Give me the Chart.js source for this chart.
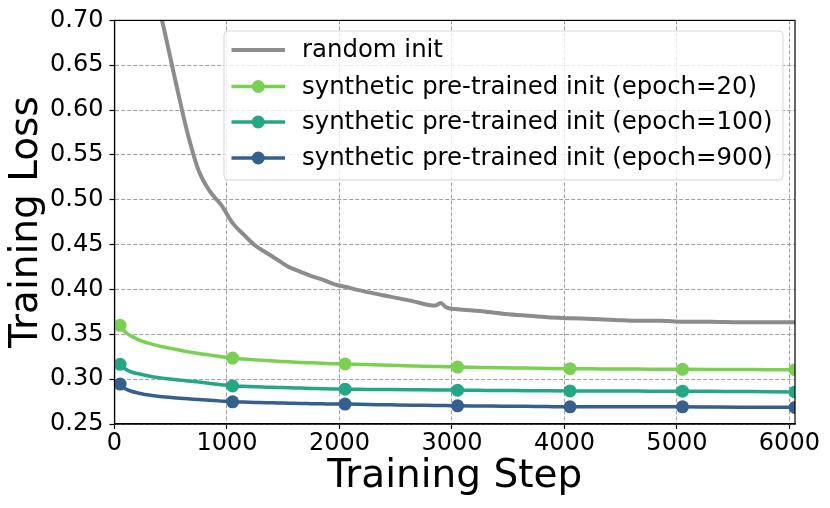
<!DOCTYPE html>
<html>
<head>
<meta charset="utf-8">
<script src="https://cdn.jsdelivr.net/npm/chart.js@4.4.1/dist/chart.umd.min.js"></script>
<style>
  html, body { margin: 0; padding: 0; background: #ffffff; }
  #wrap { width: 830px; height: 508px; }
</style>
</head>
<body>
<div id="wrap"><canvas id="c" width="830" height="508"></canvas></div>
<script>
// ---------- data ----------
const steps = [50,100,150,250,350,450,550,650,750,850,950,1050,1150,1250,1350,1450,1550,1650,1750,1850,1950,2050,2250,2450,2650,2850,2900,2950,3050,3250,3450,3650,3850,4050,4250,4450,4650,4850,5050,5300,5550,5800,6050];

const randomInit = [0.95,0.91,0.87,0.80,0.74,0.685,0.628,0.574,0.532,0.509,0.494,0.474,0.461,0.449,0.441,0.433,0.425,0.420,0.415,0.411,0.406,0.403,0.397,0.392,0.387,0.382,0.385,0.380,0.378,0.376,0.373,0.371,0.369,0.368,0.367,0.366,0.365,0.365,0.364,0.364,0.3635,0.3635,0.3635];

const epoch20 = [0.360,0.352,0.348,0.342,0.3385,0.3355,0.333,0.3305,0.3285,0.3268,0.325,0.3235,0.3225,0.3215,0.3207,0.3200,0.3193,0.3187,0.3182,0.3177,0.3172,0.3170,0.3163,0.3155,0.3148,0.3142,0.3141,0.3139,0.3135,0.3131,0.3127,0.3124,0.3120,0.3117,0.3115,0.3113,0.3112,0.3111,0.3110,0.3109,0.3108,0.3106,0.3105];

const epoch100 = [0.3165,0.311,0.308,0.305,0.3025,0.3008,0.2993,0.2980,0.2967,0.2952,0.2938,0.2925,0.2920,0.2915,0.2911,0.2907,0.2903,0.2900,0.2897,0.2894,0.2891,0.2888,0.2886,0.2884,0.2882,0.2880,0.2879,0.2879,0.2877,0.2875,0.2873,0.2872,0.2870,0.2869,0.2868,0.2867,0.2867,0.2866,0.2866,0.2864,0.2862,0.2860,0.2858];

const epoch900 = [0.2945,0.289,0.2865,0.2835,0.2815,0.2800,0.2790,0.2781,0.2773,0.2764,0.2755,0.2747,0.2744,0.2741,0.2738,0.2735,0.2732,0.2729,0.2727,0.2725,0.2723,0.2722,0.2718,0.2714,0.2710,0.2707,0.2706,0.2705,0.2703,0.2701,0.2699,0.2697,0.2694,0.2692,0.2692,0.2692,0.2692,0.2692,0.2692,0.2690,0.2688,0.2687,0.2685];

const markerSteps = [50,1050,2050,3050,4050,5050,6050];
const xTicks = [0,1000,2000,3000,4000,5000,6000];
const yTicks = [0.25,0.30,0.35,0.40,0.45,0.50,0.55,0.60,0.65,0.70];
const seriesLabels = ['random init','synthetic pre-trained init (epoch=20)','synthetic pre-trained init (epoch=100)','synthetic pre-trained init (epoch=900)'];
const seriesColors = ['#8c8c8c','#7ad151','#22a884','#355f8d'];

// ---------- chart ----------
const FONT = "'DejaVu Sans', sans-serif";
const toPts = vals => vals.map((v, i) => ({x: steps[i], y: v}));
const markerRadius = (r) => (ctx) => markerSteps.includes(steps[ctx.dataIndex]) ? r : 0;

const seriesValues = [randomInit, epoch20, epoch100, epoch900];
const datasets = seriesValues.map((vals, k) => ({
  label: seriesLabels[k],
  data: toPts(vals),
  borderColor: seriesColors[k],
  backgroundColor: seriesColors[k],
  borderWidth: k === 0 ? 4 : 3.5,
  pointRadius: k === 0 ? 0 : markerRadius(6.5),
  pointBorderWidth: 0,
  pointHoverRadius: 0,
  cubicInterpolationMode: 'monotone',
  clip: 0,
  hasMarker: k !== 0
}));

const boxPlugin = {
  id: 'boxAndLegend',
  afterDraw(chart) {
    const {ctx, chartArea: a} = chart;
    ctx.save();
    ctx.strokeStyle = '#000';
    ctx.lineWidth = 1.2;
    ctx.strokeRect(a.left, a.top, a.right - a.left, a.bottom - a.top);

    // legend
    const lx = 224, ly = 31, lw = 559, lh = 149, r = 4;
    ctx.beginPath();
    ctx.moveTo(lx + r, ly);
    ctx.arcTo(lx + lw, ly, lx + lw, ly + lh, r);
    ctx.arcTo(lx + lw, ly + lh, lx, ly + lh, r);
    ctx.arcTo(lx, ly + lh, lx, ly, r);
    ctx.arcTo(lx, ly, lx + lw, ly, r);
    ctx.closePath();
    ctx.fillStyle = 'rgba(255,255,255,0.8)';
    ctx.fill();
    ctx.strokeStyle = '#d6d6d6';
    ctx.lineWidth = 1;
    ctx.stroke();

    const rowY = [50, 86.5, 122, 158];
    chart.data.datasets.forEach((ds, i) => {
      const y = rowY[i];
      ctx.strokeStyle = ds.borderColor;
      ctx.lineWidth = ds.borderWidth;
      ctx.beginPath();
      ctx.moveTo(231.5, y);
      ctx.lineTo(285, y);
      ctx.stroke();
      if (ds.hasMarker) {
        ctx.fillStyle = ds.borderColor;
        ctx.beginPath();
        ctx.arc(258.25, y, 6.5, 0, Math.PI * 2);
        ctx.fill();
      }
      ctx.fillStyle = '#000';
      ctx.font = '24.4px ' + FONT;
      ctx.textBaseline = 'middle';
      ctx.textAlign = 'left';
      ctx.fillText(ds.label, 302, y + 1);
    });
    ctx.restore();
  }
};

new Chart(document.getElementById('c'), {
  type: 'line',
  data: { datasets },
  options: {
    responsive: false,
    animation: false,
    events: [],
    layout: { padding: { left: 0, right: 35, top: 18, bottom: 0 } },
    plugins: { legend: { display: false }, tooltip: { enabled: false } },
    scales: {
      x: {
        type: 'linear',
        min: 0,
        max: 6050,
        afterBuildTicks: s => { s.ticks = xTicks.map(v => ({value: v})); },
        afterFit: s => { s.height = 84; },
        ticks: {
          color: '#000',
          font: { family: FONT, size: 24 },
          padding: 0,
          maxRotation: 0,
          callback: v => String(v)
        },
        grid: { color: '#a0a0a0', lineWidth: 1, tickColor: '#000', tickLength: 5, tickWidth: 1.2 },
        border: { color: '#000', width: 1.2, dash: [4, 2] },
        title: { display: true, text: 'Training Step', color: '#000', font: { family: FONT, size: 39 }, padding: { top: 0, bottom: 8 } }
      },
      y: {
        min: 0.25,
        max: 0.70,
        afterBuildTicks: s => { s.ticks = yTicks.map(v => ({value: v})); },
        afterFit: s => { s.width = 114.5; },
        ticks: {
          color: '#000',
          font: { family: FONT, size: 24 },
          padding: 6,
          callback: v => Number(v).toFixed(2)
        },
        grid: { color: '#a0a0a0', lineWidth: 1, tickColor: '#000', tickLength: 5, tickWidth: 1.2 },
        border: { color: '#000', width: 1.2, dash: [4, 2] },
        title: { display: true, text: 'Training Loss', color: '#000', font: { family: FONT, size: 39 }, padding: { top: 3, bottom: 0 } }
      }
    }
  },
  plugins: [boxPlugin]
});
</script>
</body>
</html>
